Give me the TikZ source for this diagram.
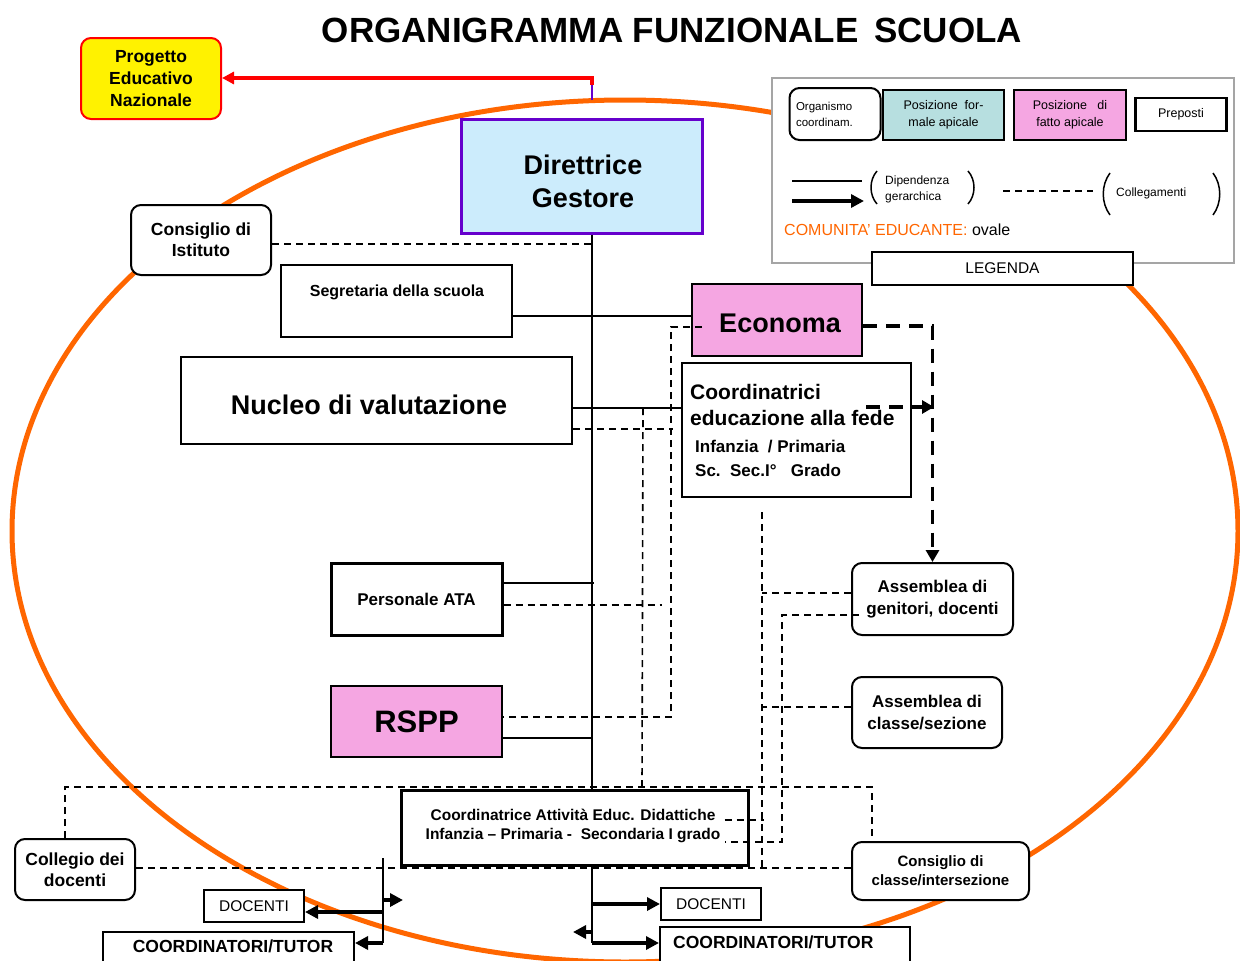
\documentclass[tikz,border=0pt]{standalone}
\usepackage{fontspec}
\setmainfont{Liberation Sans}
\usetikzlibrary{arrows.meta,calc}
\definecolor{ovalc}{RGB}{255,102,0}
\definecolor{pinkbox}{RGB}{245,166,226}
\definecolor{bluebox}{RGB}{204,236,252}
\definecolor{tealbox}{RGB}{183,223,224}
\definecolor{purp}{RGB}{102,0,204}
\definecolor{legray}{RGB}{165,165,165}
\newcommand{\fsz}[2]{\fontsize{#1}{#2}\selectfont}
\tikzset{
  box/.style={draw, line width=2pt, fill=white, inner sep=0pt, align=center, font=\bfseries},
  rbox/.style={box, rounded corners=10pt},
  conn/.style={line width=1.6pt},
  dconn/.style={line width=1.6pt, dash pattern=on 7pt off 5pt},
  tdconn/.style={line width=3.5pt, dash pattern=on 14pt off 9pt},
  harrow/.style={line width=3.5pt, -{Triangle[length=13pt,width=13pt]}},
  tdarrow/.style={tdconn, -{Triangle[length=12pt,width=13pt]}},
  txt/.style={inner sep=0pt, font=\bfseries},
}
\begin{document}
\begin{tikzpicture}[x=1pt,y=-1pt]
\useasboundingbox (0,0) rectangle (1240,961);
\fill[white] (0,0) rectangle (1240,961);

% community oval
\draw[ovalc, line width=5pt] (625,531) ellipse [x radius=613pt, y radius=431pt];

% title
\node[txt, font=\bfseries\fsz{35}{40}] (title) at (672,30) {ORGANIGRAMMA FUNZIONALE\hspace{6pt} SCUOLA};

% main nodes
\node[rbox, fill=yellow, draw=red, minimum width=140pt, minimum height=81pt, font=\bfseries\fsz{17.5}{22}] (prog) at (151,78.5) {Progetto\\Educativo\\Nazionale};
\node[box, fill=bluebox, draw=purp, line width=3pt, minimum width=241pt, minimum height=114pt] (dir) at (581.5,176) {};
\node[txt, align=center, font=\bfseries\fsz{27}{33}] (dirt) at (583,181) {Direttrice\\Gestore};
\node[rbox, minimum width=140pt, minimum height=70pt, font=\bfseries\fsz{17.5}{21}] (ci) at (201,240) {Consiglio di\\Istituto};
\node[box, minimum width=231pt, minimum height=72pt] (seg) at (396.5,301) {};
\node[txt, font=\bfseries\fsz{16}{19}] (segt) at (397,292) {Segretaria della scuola};
\node[box, fill=pinkbox, minimum width=170pt, minimum height=72pt] (eco) at (777,320) {};
\node[txt, font=\bfseries\fsz{27}{32}] (ecot) at (780,323) {Economa};
\node[box, minimum width=391pt, minimum height=87pt] (nuc) at (376.5,400.5) {};
\node[txt, font=\bfseries\fsz{27}{32}] (nuct) at (369,405) {Nucleo di valutazione};
\node[box, minimum width=229pt, minimum height=134pt] (cef) at (796.5,430) {};
\node[txt, anchor=north west, align=left, font=\bfseries\fsz{21}{26}] (ceft1) at (690,384) {Coordinatrici\\educazione alla fede};
\node[txt, anchor=north west, align=left, font=\bfseries\fsz{17}{24}] (ceft2) at (695,440) {Infanzia\ \ / Primaria\\Sc.\ \ Sec.I°\ \ \ Grado};
\node[box, line width=3pt, minimum width=171pt, minimum height=72pt, font=\bfseries\fsz{17}{20}] (ata) at (416.5,599) {Personale ATA};
\node[box, fill=pinkbox, minimum width=171pt, minimum height=71pt, font=\bfseries\fsz{31}{36}] (rspp) at (416.5,721.5) {RSPP};
\node[rbox, minimum width=161pt, minimum height=72pt, font=\bfseries\fsz{17}{22}] (ag) at (932.5,599) {Assemblea di\\genitori, docenti};
\node[rbox, minimum width=150pt, minimum height=71pt, font=\bfseries\fsz{17}{22}] (ac) at (927,712.5) {Assemblea di\\classe/sezione};
\node[box, line width=3pt, minimum width=347pt, minimum height=75pt] (cad) at (574.5,827.5) {};
\node[txt, align=center, font=\bfseries\fsz{15.5}{19}] (cadt) at (573,826) {Coordinatrice Attività Educ. Didattiche\\Infanzia -- Primaria -\ \ Secondaria I grado};
\node[rbox, minimum width=120pt, minimum height=61pt, font=\bfseries\fsz{17.5}{21}] (cd) at (75,869.5) {Collegio dei\\docenti};
\node[rbox, minimum width=177pt, minimum height=58pt, font=\bfseries\fsz{15}{19}] (cc) at (940.5,871) {Consiglio di\\classe/intersezione};
\node[box, minimum width=100pt, minimum height=32pt, font=\fsz{15.5}{18}] (docL) at (254,906) {DOCENTI};
\node[box, minimum width=251pt, minimum height=44pt] (ctL) at (228.5,954) {};
\node[txt, font=\bfseries\fsz{17.5}{20}] (ctLt) at (233,946) {COORDINATORI/TUTOR};
\node[box, minimum width=100pt, minimum height=32pt, font=\fsz{15.5}{18}] (docR) at (711,904) {DOCENTI};
\node[box, minimum width=250pt, minimum height=48pt] (ctR) at (785,951) {};
\node[txt, anchor=west, font=\bfseries\fsz{17.5}{20}] (ctRt) at (673,942) {COORDINATORI/TUTOR};

% legend
\node[draw=legray, line width=2pt, fill=white, minimum width=462pt, minimum height=185pt, inner sep=0pt] (leg) at (1003,170.5) {};
\node[rbox, font=\fsz{11.5}{16}, align=left, text width=78pt, minimum width=91pt, minimum height=52pt] (lg1) at (835,114) {Organismo\\coordinam.};
\node[box, fill=tealbox, font=\fsz{12.5}{17}, minimum width=121pt, minimum height=50pt] (lg2) at (943.5,115) {Posizione\ \ for-\\male apicale};
\node[box, fill=pinkbox, font=\fsz{12.5}{17}, minimum width=112pt, minimum height=50pt] (lg3) at (1070,115) {Posizione\ \ \ di\\fatto apicale};
\node[box, line width=2.5pt, font=\fsz{12.5}{15}, minimum width=91pt, minimum height=33pt] (lg4) at (1181,114.5) {Preposti};
\node[box, font=\fsz{15.5}{18}, minimum width=261pt, minimum height=33pt] (legt) at (1002.5,268.5) {LEGENDA};
\coordinate (l1a) at (792,181); \coordinate (l1b) at (862,181);
\coordinate (l2a) at (792,201); \coordinate (l2b) at (864,201);
\coordinate (l3a) at (1003,191); \coordinate (l3b) at (1093,191);
\draw[conn] (l1a) -- (l1b);
\draw[harrow] (l2a) -- (l2b);
\draw[dconn] (l3a) -- (l3b);
\draw[line width=1.5pt] (877,171) .. controls (869,180) and (869,195) .. (877,204);
\draw[line width=1.5pt] (968,171) .. controls (976,180) and (976,195) .. (968,204);
\draw[line width=1.5pt] (1110,173) .. controls (1101,185) and (1101,203) .. (1110,215);
\draw[line width=1.5pt] (1213,173) .. controls (1222,185) and (1222,203) .. (1213,215);
\node[txt, anchor=west, align=left, font=\fsz{12}{16}] (dgt) at (885,189) {Dipendenza\\gerarchica};
\node[txt, anchor=west, font=\fsz{12}{14}] (colt) at (1116,193) {Collegamenti};
\node[txt, anchor=west, font=\fsz{16}{18}] (comt) at (784,230) {\textcolor{ovalc}{COMUNITA' EDUCANTE:}\ ovale};

% connectors
\coordinate (tx) at (592,0);
\coordinate (rc) at (592,78);
\coordinate (pe) at (592,100);
\draw[purp, line width=1.2pt] (pe) -- (rc);
\draw[red, line width=3.5pt, -{Triangle[length=12pt,width=12pt]}] ($(rc)+(0,7)$) -- (rc) -- (prog.east |- rc);

% trunk
\draw[conn] (dir.south -| tx) -- (cad.north -| tx);
\coordinate (c2) at ($(ctR.west)+(0,-8)$);
\draw[conn, line width=2pt] (cad.south -| tx) -- (tx |- c2);
\draw[harrow] (tx |- docR.west) -- (docR.west);
\draw[harrow] (tx |- c2) -- (c2);
\coordinate (la) at (573,932);
\draw[harrow] (tx |- la) -- (la);

% left bottom
\coordinate (lx) at (383,858);
\coordinate (d1) at ($(docL.east)+(0,6)$);
\coordinate (d2) at ($(ctL.east)+(0,-11)$);
\coordinate (ra) at (403,900);
\draw[conn, line width=2pt] (lx) -- (lx |- d2);
\draw[harrow] (lx |- d1) -- (d1);
\draw[harrow] (lx |- d2) -- (d2);
\draw[harrow] (lx |- ra) -- (ra);

% consiglio di istituto
\coordinate (c1) at ($(ci.east)+(0,4)$);
\draw[dconn] (c1) -- (c1 -| tx);
% segretaria - economa
\coordinate (s1) at ($(seg.east)+(0,15)$);
\draw[conn] (s1) -- (s1 -| eco.west);
% economa dashed thin
\draw[dconn] ($(eco.west)+(11,7)$) -- ++(-31,0) |- ($(rspp.east)+(0,-4.5)$);
% economa thick dashed
\draw[tdarrow] ($(eco.east)+(0,6)$) -| (ag.north);
\draw[tdarrow] ($(cef.east)+(-46,-23)$) -- ++(68,0);
% nucleo
\coordinate (n1) at ($(nuc.east)+(0,7.5)$);
\draw[conn] (n1) -- (n1 -| cef.west);
\draw[dconn] ($(nuc.east)+(0,28.5)$) -- ++(100,0);
\draw[dconn] ($(nuc.east)+(70,7.5)$) -- ($(cad.north)+(67.5,0)$);
% personale ATA
\draw[conn] ($(ata.east)+(0,-16)$) -- ++(90,0);
\draw[dconn] ($(ata.east)+(0,6)$) -- ++(158,0);
% RSPP
\draw[conn] ($(rspp.east)+(0,16.5)$) -- ++(90,0);
% right dashed
\coordinate (v1t) at (762,512);
\coordinate (v1b) at (762,868);
\draw[dconn] (v1t) -- (v1b);
\draw[dconn] ($(ag.west)+(0,-6)$) -- (v1t |- {$(ag.west)+(0,-6)$});
\draw[dconn] ($(ac.west)+(0,-5.5)$) -- (v1t |- {$(ac.west)+(0,-5.5)$});
\draw[dconn] ($(ag.west)+(8,16)$) -- ++(-77,0) |- ($(cad.east)+(-25,14.5)$);
\draw[dconn] ($(cad.east)+(-25,-7.5)$) -- ++(39,0);
% big dashed frame
\draw[dconn] ($(cd.north)+(-10,0)$) |- ($(cc.north)+(-68.5,-54)$) -- ($(cc.north)+(-68.5,0)$);
\coordinate (cdl) at ($(cd.east)+(0,-1.5)$);
\draw[dconn] (cdl) -- (cdl -| cc.west);
\end{tikzpicture}
\end{document}
